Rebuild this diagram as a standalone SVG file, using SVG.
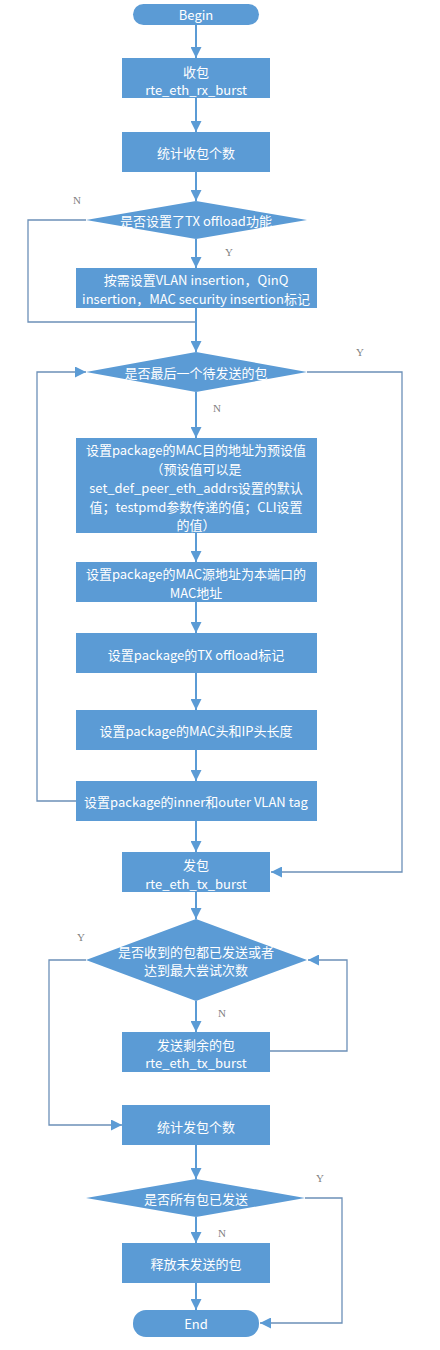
<svg xmlns="http://www.w3.org/2000/svg" width="440" height="1350" viewBox="0 0 440 1350">
<defs>
<style>
.box{fill:#5B9BD5;}
.t{fill:#FFFFFF;font-family:"Noto Sans CJK SC","Liberation Sans",sans-serif;font-size:13px;text-anchor:middle;dominant-baseline:central;}
.lbl{fill:#7F7F7F;font-family:"Liberation Serif",serif;font-size:11px;text-anchor:middle;dominant-baseline:central;}
.main{fill:none;stroke:#5B9BD5;stroke-width:2;}
.thin{fill:none;stroke:#6C90B8;stroke-width:1.3;}
</style>
<marker id="ah" viewBox="0 0 10 10" refX="10" refY="5" markerWidth="11" markerHeight="11" markerUnits="userSpaceOnUse" orient="auto">
<path d="M0,0 L10,5 L0,10 z" fill="#5B9BD5"/>
</marker>
</defs>
<rect width="440" height="1350" fill="#FFFFFF"/>
<g id="connectors">
<line class="main" x1="196" y1="25" x2="196" y2="58" marker-end="url(#ah)"/>
<line class="main" x1="196" y1="98" x2="196" y2="132" marker-end="url(#ah)"/>
<line class="main" x1="196" y1="172" x2="196" y2="201" marker-end="url(#ah)"/>
<line class="main" x1="196" y1="239" x2="196" y2="268" marker-end="url(#ah)"/>
<polyline class="thin" points="86,220 28,220 28,322 196,322"/>
<line class="main" x1="196" y1="308" x2="196" y2="352" marker-end="url(#ah)"/>
<line class="main" x1="196" y1="392" x2="196" y2="438" marker-end="url(#ah)"/>
<line class="main" x1="196" y1="533" x2="196" y2="562" marker-end="url(#ah)"/>
<line class="main" x1="196" y1="602" x2="196" y2="633" marker-end="url(#ah)"/>
<line class="main" x1="196" y1="673" x2="196" y2="710" marker-end="url(#ah)"/>
<line class="main" x1="196" y1="750" x2="196" y2="781" marker-end="url(#ah)"/>
<line class="main" x1="196" y1="821" x2="196" y2="852" marker-end="url(#ah)"/>
<polyline class="thin" points="307,372 402,372 402,872 271,872" marker-end="url(#ah)"/>
<polyline class="thin" points="76,801 37,801 37,372 86,372" marker-end="url(#ah)"/>
<line class="main" x1="196" y1="892" x2="196" y2="919" marker-end="url(#ah)"/>
<polyline class="thin" points="86,960 49,960 49,1125 122,1125" marker-end="url(#ah)"/>
<line class="main" x1="196" y1="1001" x2="196" y2="1032" marker-end="url(#ah)"/>
<polyline class="thin" points="270,1051 347,1051 347,960 308,960" marker-end="url(#ah)"/>
<line class="main" x1="196" y1="1145" x2="196" y2="1179" marker-end="url(#ah)"/>
<polyline class="thin" points="305,1198 342,1198 342,1323 260,1323" marker-end="url(#ah)"/>
<line class="main" x1="196" y1="1217" x2="196" y2="1243" marker-end="url(#ah)"/>
<line class="main" x1="196" y1="1283" x2="196" y2="1310" marker-end="url(#ah)"/>
<text class="lbl" x="77" y="200">N</text>
<text class="lbl" x="229" y="252">Y</text>
<text class="lbl" x="360" y="352">Y</text>
<text class="lbl" x="217" y="408">N</text>
<text class="lbl" x="81" y="937">Y</text>
<text class="lbl" x="222" y="1013">N</text>
<text class="lbl" x="320" y="1178">Y</text>
<text class="lbl" x="222" y="1233">N</text>
</g>
<g id="begin">
<rect class="box" x="133" y="4" width="126" height="21" rx="10.5"/>
<text class="t" x="196" y="14.5">Begin</text>
</g>
<g id="rx">
<rect class="box" x="122" y="58" width="148" height="40"/>
<text class="t" x="196" y="71">收包</text>
<text class="t" x="196" y="89">rte_eth_rx_burst</text>
</g>
<g id="count-rx">
<rect class="box" x="122" y="132" width="148" height="40"/>
<text class="t" x="196" y="152">统计收包个数</text>
</g>
<g id="d-offload">
<polygon class="box" points="196,201 307,220 196,239 86,220"/>
<text class="t" x="196" y="220">是否设置了TX offload功能</text>
</g>
<g id="set-insertion">
<rect class="box" x="76" y="268" width="241" height="40"/>
<text class="t" x="196" y="279">按需设置VLAN insertion，QinQ</text>
<text class="t" x="196" y="298">insertion，MAC security insertion标记</text>
</g>
<g id="d-last">
<polygon class="box" points="196,352 307,372 196,392 86,372"/>
<text class="t" x="196" y="372">是否最后一个待发送的包</text>
</g>
<g id="set-dst">
<rect class="box" x="76" y="438" width="241" height="95"/>
<text class="t" x="196" y="449">设置package的MAC目的地址为预设值</text>
<text class="t" x="196" y="468">（预设值可以是</text>
<text class="t" x="196" y="487">set_def_peer_eth_addrs设置的默认</text>
<text class="t" x="196" y="506">值；testpmd参数传递的值；CLI设置</text>
<text class="t" x="196" y="524">的值）</text>
</g>
<g id="set-src">
<rect class="box" x="76" y="562" width="241" height="40"/>
<text class="t" x="196" y="573">设置package的MAC源地址为本端口的</text>
<text class="t" x="196" y="592">MAC地址</text>
</g>
<g id="set-offload">
<rect class="box" x="76" y="633" width="241" height="40"/>
<text class="t" x="196" y="654">设置package的TX offload标记</text>
</g>
<g id="set-len">
<rect class="box" x="76" y="710" width="241" height="40"/>
<text class="t" x="196" y="730">设置package的MAC头和IP头长度</text>
</g>
<g id="set-vlan">
<rect class="box" x="76" y="781" width="241" height="40"/>
<text class="t" x="196" y="801">设置package的inner和outer VLAN tag</text>
</g>
<g id="tx">
<rect class="box" x="122" y="852" width="148" height="40"/>
<text class="t" x="196" y="864">发包</text>
<text class="t" x="196" y="883">rte_eth_tx_burst</text>
</g>
<g id="d-sent">
<polygon class="box" points="196,919 307,960 196,1001 86,960"/>
<text class="t" x="196" y="951">是否收到的包都已发送或者</text>
<text class="t" x="196" y="969">达到最大尝试次数</text>
</g>
<g id="tx-rest">
<rect class="box" x="122" y="1032" width="148" height="40"/>
<text class="t" x="196" y="1044">发送剩余的包</text>
<text class="t" x="196" y="1062">rte_eth_tx_burst</text>
</g>
<g id="count-tx">
<rect class="box" x="122" y="1105" width="148" height="40"/>
<text class="t" x="196" y="1126">统计发包个数</text>
</g>
<g id="d-all">
<polygon class="box" points="196,1179 305,1198 196,1217 86,1198"/>
<text class="t" x="196" y="1198">是否所有包已发送</text>
</g>
<g id="free">
<rect class="box" x="122" y="1243" width="148" height="40"/>
<text class="t" x="196" y="1263">释放未发送的包</text>
</g>
<g id="end">
<rect class="box" x="133" y="1310" width="126" height="27" rx="13"/>
<text class="t" x="196" y="1323.5">End</text>
</g>
</svg>
